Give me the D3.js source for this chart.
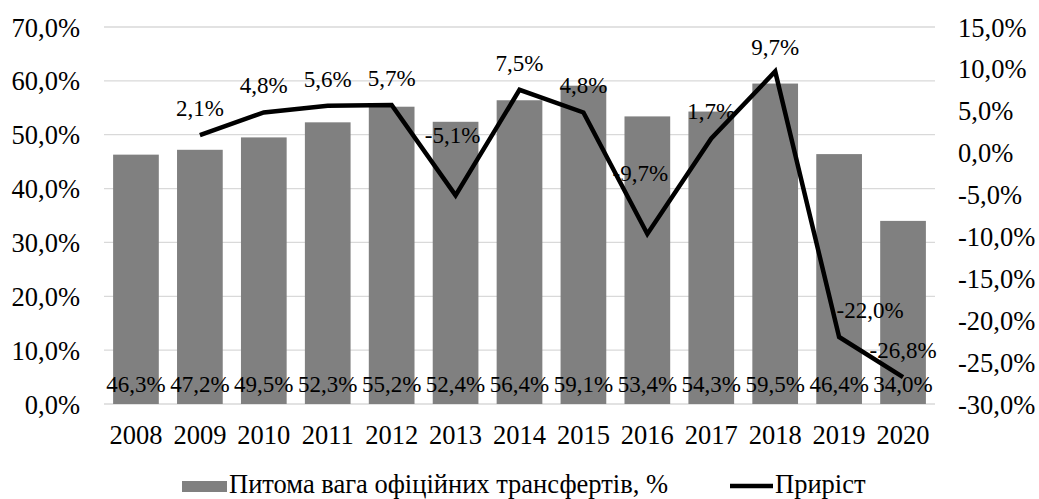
<!DOCTYPE html>
<html>
<head>
<meta charset="utf-8">
<script src="https://cdn.jsdelivr.net/npm/d3@7"></script>
<style>
  html, body { margin: 0; padding: 0; background: #fff; }
  svg { display: block; font-family: "Liberation Serif", "Times New Roman", serif; }
</style>
</head>
<body>
<svg id="chart" width="1039" height="499"></svg>
<script>
// Years on the category axis
const years = ["2008","2009","2010","2011","2012","2013","2014","2015","2016","2017","2018","2019","2020"];
// Share of official transfers, %
const shareValues = [46.3, 47.2, 49.5, 52.3, 55.2, 52.4, 56.4, 59.1, 53.4, 54.3, 59.5, 46.4, 34.0];
// Growth, % (no value for the first year)
const growthValues = [null, 2.1, 4.8, 5.6, 5.7, -5.1, 7.5, 4.8, -9.7, 1.7, 9.7, -22.0, -26.8];
// Axis tick values
const leftTicks = [0, 10, 20, 30, 40, 50, 60, 70];
const rightTicks = [-30, -25, -20, -15, -10, -5, 0, 5, 10, 15];
// Legend entries
const seriesNames = ["Питома вага офіційних трансфертів, %", "Приріст"];

const fmt = v => v.toFixed(1).replace(".", ",") + "%";

const svg = d3.select("#chart");
const plot = { left: 104, right: 935, top: 27, bottom: 404 };

const x = d3.scaleBand().domain(years).range([plot.left, plot.right]).paddingInner(0.285).paddingOuter(0.1425);
const yL = d3.scaleLinear().domain([0, 70]).range([plot.bottom, plot.top]);
const yR = d3.scaleLinear().domain([-30, 15]).range([plot.bottom, plot.top]);

// Gridlines
svg.append("g").selectAll("line").data(leftTicks).join("line")
  .attr("x1", plot.left).attr("x2", plot.right)
  .attr("y1", d => yL(d)).attr("y2", d => yL(d))
  .attr("stroke", "#d9d9d9").attr("stroke-width", 1.3);

// Left axis
const axL = svg.append("g").attr("transform", `translate(${plot.left - 24},0)`)
  .call(d3.axisLeft(yL).tickValues(leftTicks).tickFormat(fmt).tickSize(0).tickPadding(0));
axL.select(".domain").remove();
axL.selectAll("text").attr("font-size", 26.5).attr("font-family", "Liberation Serif").attr("fill", "#000").attr("dy", "0.34em");

// Right axis
const axR = svg.append("g").attr("transform", `translate(${plot.right + 23},0)`)
  .call(d3.axisRight(yR).tickValues(rightTicks).tickFormat(fmt).tickSize(0).tickPadding(0));
axR.select(".domain").remove();
axR.selectAll("text").attr("font-size", 26.5).attr("font-family", "Liberation Serif").attr("fill", "#000").attr("dy", "0.34em");

// Bottom axis (years)
const axB = svg.append("g").attr("transform", `translate(0,${plot.bottom})`)
  .call(d3.axisBottom(x).tickSize(0).tickPadding(0));
axB.select(".domain").remove();
axB.selectAll("text").attr("font-size", 26.5).attr("font-family", "Liberation Serif").attr("fill", "#000").attr("dy", "1.5em");

// Bars
svg.append("g").selectAll("rect").data(shareValues).join("rect")
  .attr("x", (d, i) => x(years[i]))
  .attr("width", x.bandwidth())
  .attr("y", d => yL(d))
  .attr("height", d => yL(0) - yL(d))
  .attr("fill", "#808080");

// Bar labels at the base of each bar
svg.append("g").selectAll("text").data(shareValues).join("text")
  .attr("x", (d, i) => x(years[i]) + x.bandwidth() / 2)
  .attr("y", yL(0) - 12)
  .attr("text-anchor", "middle")
  .attr("font-size", 23)
  .attr("fill", "#000")
  .text(d => fmt(d));

// Growth line
const pts = growthValues.map((v, i) => ({ v, i })).filter(p => p.v !== null);
const line = d3.line()
  .x(p => x(years[p.i]) + x.bandwidth() / 2)
  .y(p => yR(p.v));
svg.append("path").datum(pts)
  .attr("d", line)
  .attr("fill", "none")
  .attr("stroke", "#000")
  .attr("stroke-width", 4.5)
  .attr("stroke-linejoin", "miter");

// Growth labels; a few are lifted or shifted to stay clear of the line
const labelShift = { "2013": [-3, -33], "2016": [-7, -34], "2019": [31, 0], "2018": [0, 3] };
svg.append("g").selectAll("text").data(pts).join("text")
  .attr("x", p => x(years[p.i]) + x.bandwidth() / 2 + (labelShift[years[p.i]] || [0, 0])[0])
  .attr("y", p => yR(p.v) - 19 + (labelShift[years[p.i]] || [0, 0])[1])
  .attr("text-anchor", "middle")
  .attr("font-size", 23)
  .attr("fill", "#000")
  .text(p => fmt(p.v));

// Legend
const legend = svg.append("g");
legend.append("rect").attr("x", 182).attr("y", 481).attr("width", 45).attr("height", 11).attr("fill", "#808080");
legend.append("text").attr("x", 229).attr("y", 493).attr("font-size", 26.5).attr("fill", "#000").text(seriesNames[0]);
legend.append("line").attr("x1", 730).attr("x2", 773).attr("y1", 486).attr("y2", 486).attr("stroke", "#000").attr("stroke-width", 4.5);
legend.append("text").attr("x", 775).attr("y", 493).attr("font-size", 26.5).attr("fill", "#000").text(seriesNames[1]);
</script>
</body>
</html>
